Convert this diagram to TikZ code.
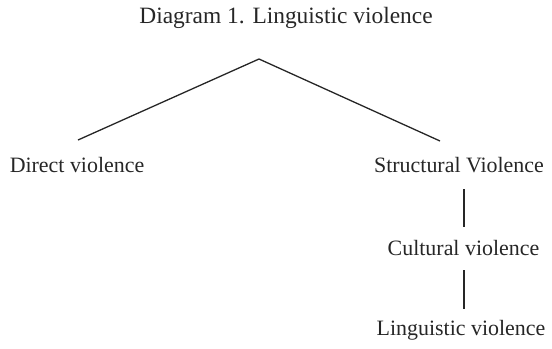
\documentclass[tikz,border=0pt]{standalone}
\usepackage{fontspec}
\setmainfont{Liberation Serif}
\begin{document}
\begin{tikzpicture}[x=1bp,y=-1bp,
  lbl/.style={font=\fontsize{22}{25}\selectfont, inner sep=0pt, text=black!85},
  ttl/.style={font=\fontsize{23.5}{26}\selectfont, inner sep=0pt, text=black!85},
  edge/.style={line width=1.3bp, black!85}]
\useasboundingbox (0,0) rectangle (552,348);
\node[ttl] (title) at (286,18) {Diagram 1. Linguistic violence};
\coordinate (apex) at (259,59);
\coordinate (lend) at (78,140);
\coordinate (rend) at (440,141);
\node[lbl] (direct) at (77,165) {Direct violence};
\node[lbl] (struct) at (459,165) {Structural Violence};
\node[lbl] (cult) at (463.5,248) {Cultural violence};
\node[lbl] (ling) at (461,330) {Linguistic violence};
\coordinate (v1a) at (464,189);
\coordinate (v1b) at (464,227);
\coordinate (v2a) at (464,270);
\coordinate (v2b) at (464,309);
\draw[edge] (lend) -- (apex) -- (rend);
\draw[edge] (v1a) -- (v1b);
\draw[edge] (v2a) -- (v2b);
\end{tikzpicture}
\end{document}
